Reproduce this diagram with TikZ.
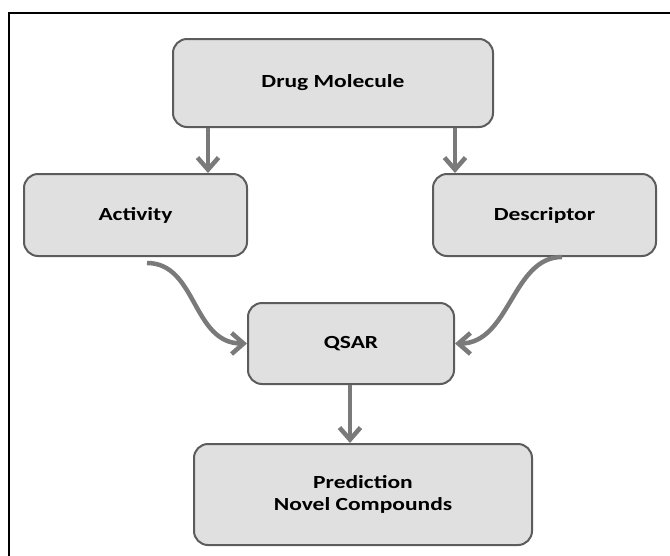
\documentclass[tikz,border=0pt]{standalone}
\usepackage{fontspec}
\setmainfont{Carlito}[FakeStretch=1.27]
\usetikzlibrary{arrows.meta,calc}
\definecolor{boxfill}{HTML}{E0E0E0}
\definecolor{boxline}{HTML}{5C5C5C}
\definecolor{flow}{HTML}{7A7A7A}
\tikzset{
  stagebox/.style={draw=boxline, fill=boxfill, line width=2pt, rounded corners=14pt,
    inner sep=0pt, align=center, font=\fontsize{18.5}{22}\selectfont\bfseries},
  flowarrow/.style={draw=flow, line width=4.5pt,
    -{Straight Barb[length=12pt,width=21pt,line width=4.5pt]}},
  frameline/.style={draw=black, line width=2pt}
}
\begin{document}
\begin{tikzpicture}[x=1pt,y=-1pt]
  \useasboundingbox (0,0) rectangle (670,555);
  % open frame: top and left edges only
  \coordinate (fbl) at (9,556);
  \coordinate (ftl) at (9,13);
  \coordinate (ftr) at (671,13);
  \draw[frameline] (fbl) -- (ftl) -- (ftr);

  % stages
  \node[stagebox, minimum width=320pt, minimum height=88pt] (drug) at (333,83) {Drug Molecule};
  \node[stagebox, minimum width=223pt, minimum height=82pt] (act) at (135.5,215) {Activity};
  \node[stagebox, minimum width=223pt, minimum height=82pt] (desc) at (544.5,215) {Descriptor};
  \node[stagebox, minimum width=206pt, minimum height=81pt] (qsar) at (351,343.5) {QSAR};
  \node[stagebox, minimum width=338pt, minimum height=101pt] (pred) at (363,494.5) {Prediction\\Novel Compounds};

  % flows
  \draw[flowarrow] (drug.south -| 208,0) -- (act.north -| 208,0);
  \draw[flowarrow] (drug.south -| 455,0) -- (desc.north -| 455,0);
  \draw[flowarrow] ($(act.south)+(11.5,6)$) .. controls +(50,0) and +(-55,0) .. (qsar.west);
  \draw[flowarrow] ($(desc.south)+(17.5,0)$) .. controls +(-50,0) and +(55,0) .. (qsar.east);
  \draw[flowarrow] (qsar.south -| 350,0) -- (pred.north -| 350,0);
\end{tikzpicture}
\end{document}
